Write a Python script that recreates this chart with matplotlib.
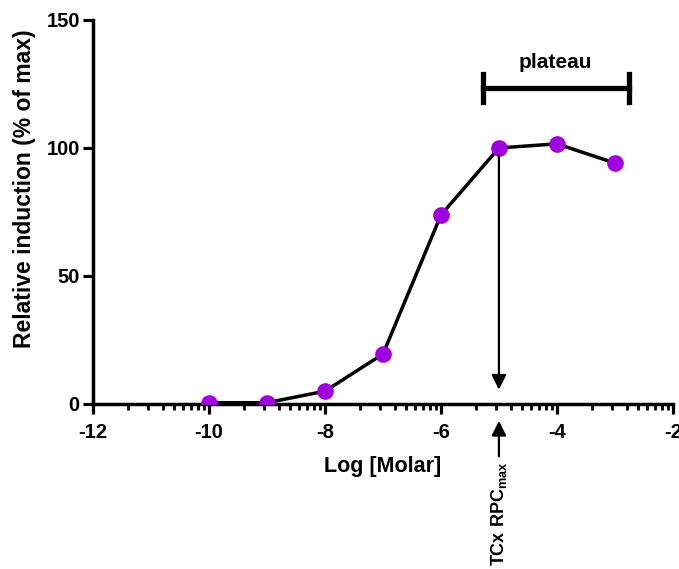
import numpy as np
import matplotlib
matplotlib.use("Agg")
import matplotlib.pyplot as plt

plt.rcParams['font.family'] = ['Liberation Sans', 'DejaVu Sans']
plt.rcParams['font.weight'] = 'bold'
plt.rcParams['mathtext.fontset'] = 'custom'
plt.rcParams['mathtext.rm'] = 'Liberation Sans:bold'
plt.rcParams['mathtext.bf'] = 'Liberation Sans:bold'

# data
log_molar = [-10, -9, -8, -7, -6, -5, -4, -3]
induction = [0.5, 0.5, 5.0, 19.5, 73.8, 100.0, 101.6, 94.1]
x_major = [-12, -10, -8, -6, -4, -2]
y_major = [0, 50, 100, 150]

fig = plt.figure(figsize=(6.79, 5.69), dpi=100)
ax = fig.add_axes([0.137, 0.29, 0.854, 0.675])

ax.plot(log_molar, induction, color='black', lw=2.5, zorder=2)
ax.plot(log_molar, induction, 'o', color='#A000DD', ms=12, mec='none', zorder=3)

ax.set_xlim(-12, -2)
ax.set_ylim(0, 150)

# GraphPad style "log" minor ticks between the majors
minor = []
for m in x_major[:-1]:
    for k in range(2, 10):
        minor.append(m + 2 * np.log10(k))
ax.set_xticks(x_major)
ax.set_xticks(minor, minor=True)
ax.set_yticks(y_major)
ax.set_xticklabels([str(v) for v in x_major])
ax.set_yticklabels([str(v) for v in y_major])

for s in ['top', 'right']:
    ax.spines[s].set_visible(False)
for s in ['left', 'bottom']:
    ax.spines[s].set_linewidth(2.5)

ax.tick_params(axis='both', which='major', length=7.5, width=2.3, labelsize=14.5)
ax.tick_params(axis='x', which='major', pad=6)
ax.tick_params(axis='y', which='major', pad=2)
ax.tick_params(axis='x', which='minor', length=4.5, width=2.0)

ax.set_xlabel('Log [Molar]', fontsize=15.5, fontweight='bold', labelpad=10)
ax.set_ylabel('Relative induction (% of max)', fontsize=16.5, fontweight='bold')
ax.yaxis.set_label_coords(-0.098, 0.56)

# arrow from the max point down to the axis
ax.annotate('', xy=(-5, 4.5), xytext=(-5, 98),
            arrowprops=dict(arrowstyle='-|>', color='black', lw=1.6, mutation_scale=22))
# arrow below the axis pointing up
ax.annotate('', xy=(-5, -5.5), xytext=(-5, -21.5), annotation_clip=False,
            arrowprops=dict(arrowstyle='-|>', color='black', lw=1.6, mutation_scale=22))
ax.text(-5, -22.5, r'TCx RPC$_{\mathbf{max}}$', rotation=90, ha='center', va='top',
        fontsize=13, fontweight='bold', clip_on=False)

# plateau bar
ax.plot([-5.28, -2.76], [123.4, 123.4], color='black', lw=3.8, clip_on=False)
ax.plot([-5.28, -5.28], [118.0, 128.8], color='black', lw=3.8, clip_on=False)
ax.plot([-2.76, -2.76], [118.0, 128.8], color='black', lw=3.8, clip_on=False)
ax.text(-4.02, 133.5, 'plateau', ha='center', va='center', fontsize=15, fontweight='bold')

fig.savefig('out.png', dpi=100)
